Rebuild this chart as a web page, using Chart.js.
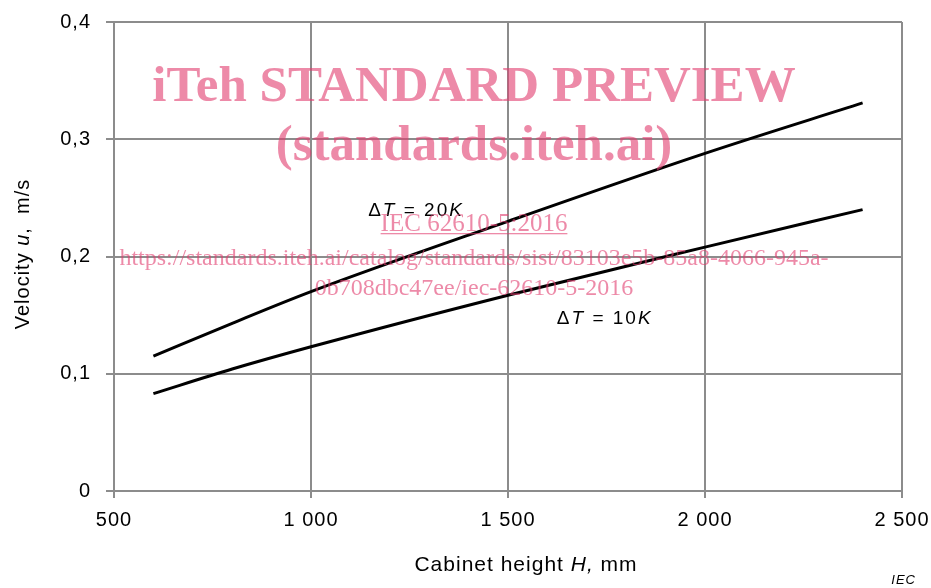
<!DOCTYPE html>
<html>
<head>
<meta charset="utf-8">
<script src="https://cdn.jsdelivr.net/npm/chart.js@4.4.1/dist/chart.umd.min.js"></script>
<style>
  html, body { margin: 0; padding: 0; background: #fff; }
  #wrap { width: 931px; height: 588px; position: relative; }
</style>
</head>
<body>
<div id="wrap"><canvas id="velocityChart" width="931" height="588"></canvas></div>
<script>
// Cabinet height H (mm) and air velocity u (m/s)
const heights = [600, 800, 1000, 1500, 2000, 2400];
const velocity20K = [0.115, 0.143, 0.170, 0.230, 0.288, 0.331];
const velocity10K = [0.083, 0.104, 0.123, 0.167, 0.208, 0.240];

const xTickValues = [500, 1000, 1500, 2000, 2500];
const xTickLabels = ['500', '1 000', '1 500', '2 000', '2 500'];
const yTickValues = [0, 0.1, 0.2, 0.3, 0.4];
const yTickLabels = ['0', '0,1', '0,2', '0,3', '0,4'];

const FONT = "'Liberation Sans', Arial, sans-serif";
const SERIF = "'Liberation Serif', 'Times New Roman', serif";
const GRID = '#8c8c8c';
const PINK = 'rgba(225, 60, 110, 0.6)';

function toPoints(xs, ys) {
  return xs.map((x, i) => ({ x: x, y: ys[i] }));
}

// draw a line of text made of normal / italic pieces
function drawRuns(ctx, runs, x, y, size, align) {
  let total = 0;
  runs.forEach(r => {
    ctx.font = (r.italic ? 'italic ' : '') + size + 'px ' + FONT;
    r.w = ctx.measureText(r.text).width;
    total += r.w;
  });
  let cx = align === 'center' ? x - total / 2 : x;
  runs.forEach(r => {
    ctx.font = (r.italic ? 'italic ' : '') + size + 'px ' + FONT;
    ctx.fillText(r.text, cx, y);
    cx += r.w;
  });
}

// the source figure uses slightly spaced lettering
const spacingPlugin = {
  id: 'spacing',
  beforeDraw(chart) {
    chart.ctx.letterSpacing = '1px';
  }
};

const textPlugin = {
  id: 'figureText',
  afterDraw(chart) {
    const ctx = chart.ctx;
    const xs = chart.scales.x;
    const ys = chart.scales.y;
    ctx.save();
    ctx.fillStyle = '#000';
    ctx.textBaseline = 'middle';
    ctx.textAlign = 'left';

    // curve labels
    ctx.letterSpacing = '2px';
    drawRuns(ctx, [
      { text: '\u0394' }, { text: 'T', italic: true }, { text: ' = 20' }, { text: 'K', italic: true }
    ], xs.getPixelForValue(1145), ys.getPixelForValue(0.239), 19, 'left');
    drawRuns(ctx, [
      { text: '\u0394' }, { text: 'T', italic: true }, { text: ' = 10' }, { text: 'K', italic: true }
    ], xs.getPixelForValue(1624), ys.getPixelForValue(0.1468), 19, 'left');

    // axis titles
    ctx.letterSpacing = '1px';
    drawRuns(ctx, [
      { text: 'Cabinet height ' }, { text: 'H,', italic: true }, { text: ' mm' }
    ], 526, 565, 21, 'center');

    ctx.save();
    ctx.translate(23, 254);
    ctx.rotate(-Math.PI / 2);
    drawRuns(ctx, [
      { text: 'Velocity ' }, { text: 'u', italic: true }, { text: ',  m/s' }
    ], 0, 0, 20, 'center');
    ctx.restore();

    ctx.font = 'italic 13px ' + FONT;
    ctx.textAlign = 'right';
    ctx.fillText('IEC', 916, 580);

    // watermark
    ctx.letterSpacing = '0px';
    ctx.fillStyle = PINK;
    ctx.textAlign = 'center';
    ctx.textBaseline = 'alphabetic';
    const cx = 474;
    ctx.font = 'bold 51px ' + SERIF;
    ctx.fillText('iTeh STANDARD PREVIEW', cx, 101);
    ctx.fillText('(standards.iteh.ai)', cx, 160);
    ctx.font = '25px ' + SERIF;
    const link = 'IEC 62610-5:2016';
    ctx.fillText(link, cx, 231);
    const lw = ctx.measureText(link).width;
    ctx.fillRect(cx - lw / 2, 233, lw, 1.3);
    ctx.font = '24px ' + SERIF;
    ctx.fillText('https://standards.iteh.ai/catalog/standards/sist/83103e5b-85a8-4066-945a-', cx, 265);
    ctx.fillText('0b708dbc47ee/iec-62610-5-2016', cx, 295);
    ctx.restore();
  }
};

document.addEventListener('DOMContentLoaded', function() {
  const ctx = document.getElementById('velocityChart');

  new Chart(ctx, {
    type: 'line',
    data: {
      datasets: [
        {
          label: '\u0394T = 20K',
          data: toPoints(heights, velocity20K),
          borderColor: '#000',
          borderWidth: 3,
          pointRadius: 0,
          cubicInterpolationMode: 'monotone',
          fill: false
        },
        {
          label: '\u0394T = 10K',
          data: toPoints(heights, velocity10K),
          borderColor: '#000',
          borderWidth: 3,
          pointRadius: 0,
          cubicInterpolationMode: 'monotone',
          fill: false
        }
      ]
    },
    options: {
      responsive: false,
      animation: false,
      layout: {
        padding: { top: 22, right: 29, left: 0, bottom: 0 }
      },
      plugins: {
        legend: { display: false },
        tooltip: { enabled: false }
      },
      scales: {
        x: {
          type: 'linear',
          min: 500,
          max: 2500,
          afterBuildTicks: scale => {
            scale.ticks = xTickValues.map(v => ({ value: v }));
          },
          afterFit: scale => {
            scale.height = 97;
            scale.paddingLeft = 0;
            scale.paddingRight = 0;
          },
          ticks: {
            color: '#000',
            font: { family: FONT, size: 20 },
            padding: 10,
            maxRotation: 0,
            callback: value => xTickLabels[xTickValues.indexOf(value)]
          },
          grid: {
            color: GRID,
            lineWidth: 2,
            tickLength: 7,
            tickColor: GRID
          },
          border: { color: GRID, width: 2 }
        },
        y: {
          min: 0,
          max: 0.4,
          afterBuildTicks: scale => {
            scale.ticks = yTickValues.map(v => ({ value: v }));
          },
          afterFit: scale => {
            scale.width = 114;
            scale.paddingTop = 0;
            scale.paddingBottom = 0;
          },
          ticks: {
            color: '#000',
            font: { family: FONT, size: 20 },
            padding: 15,
            callback: value => yTickLabels[yTickValues.findIndex(v => Math.abs(v - value) < 1e-9)]
          },
          grid: {
            color: GRID,
            lineWidth: 2,
            tickLength: 8,
            tickColor: GRID
          },
          border: { color: GRID, width: 2 }
        }
      }
    },
    plugins: [spacingPlugin, textPlugin]
  });
});
</script>
</body>
</html>
